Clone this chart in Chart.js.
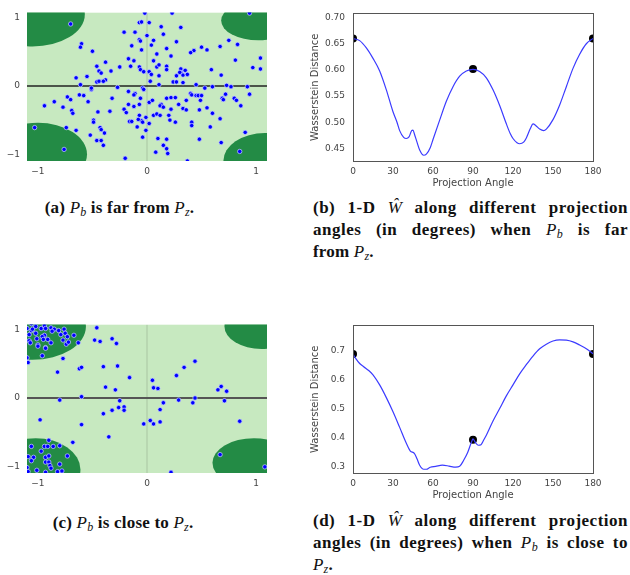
<!DOCTYPE html>
<html>
<head>
<meta charset="utf-8">
<script src="https://cdn.jsdelivr.net/npm/chart.js@4.4.0/dist/chart.umd.min.js"></script>
<style>
  html, body { margin: 0; padding: 0; background: #fff; }
  body { width: 630px; height: 575px; position: relative; overflow: hidden; }
  canvas { position: absolute; }
  .cap { position: absolute; font-family: "Liberation Serif", "DejaVu Serif", serif; font-weight: bold;
         font-size: 17px; line-height: 22px; color: #111; letter-spacing: 0.2px; }
  .cap i { font-weight: normal; font-style: italic; }
  .cap sub { font-size: 12px; vertical-align: -3px; line-height: 0; }
  .just { text-align: justify; text-align-last: justify; white-space: nowrap; letter-spacing: 0.5px; }
</style>
</head>
<body>
<canvas id="chartA" width="272" height="185" style="left:0;top:0"></canvas>
<canvas id="chartB" width="330" height="195" style="left:300px;top:0"></canvas>
<canvas id="chartC" width="272" height="185" style="left:0;top:312px"></canvas>
<canvas id="chartD" width="330" height="195" style="left:300px;top:312px"></canvas>

<div class="cap" style="left:0;top:197px;width:239px;text-align:center">(a) <i>P<sub>b</sub></i> is far from <i>P<sub>z</sub></i>.</div>
<div class="cap" style="left:313px;top:197px;width:315px">
  <div class="just">(b) 1-D <i>Ŵ</i> along different projection</div>
  <div class="just">angles (in degrees) when <i>P<sub>b</sub></i> is far</div>
  <div>from <i>P<sub>z</sub></i>.</div>
</div>
<div class="cap" style="left:0;top:512px;width:246px;text-align:center">(c) <i>P<sub>b</sub></i> is close to <i>P<sub>z</sub></i>.</div>
<div class="cap" style="left:313px;top:510px;width:315px">
  <div class="just">(d) 1-D <i>Ŵ</i> along different projection</div>
  <div class="just">angles (in degrees) when <i>P<sub>b</sub></i> is close to</div>
  <div><i>P<sub>z</sub></i>.</div>
</div>

<script>
// scatter samples, [x, y]
const pointsA = [
  [-0.70,0.91],[-0.02,1.07],[0.23,1.07],[0.94,1.07],[-0.07,0.93],[-0.05,0.94],[0.02,0.93],[0.13,0.87],
  [0.31,0.86],[-0.21,0.79],[-0.11,0.79],[0.15,0.76],[0.00,0.74],[-0.07,0.68],[-0.06,0.66],[0.06,0.67],
  [0.75,0.67],[-0.60,0.62],[-0.61,0.57],[-0.14,0.59],[0.04,0.60],[0.27,0.65],[0.83,0.61],[-0.05,0.53],
  [0.18,0.55],[0.43,0.52],[0.40,0.49],[0.50,0.57],[0.55,0.53],[0.67,0.58],[-0.50,0.51],[0.09,0.47],
  [0.22,0.44],[-0.17,0.40],[-0.12,0.37],[-0.38,0.35],[0.06,0.37],[0.81,0.38],[1.04,0.41],[-0.46,0.29],
  [-0.25,0.28],[-0.15,0.29],[-0.07,0.28],[0.09,0.28],[0.11,0.31],[0.18,0.29],[0.18,0.24],[-0.06,0.24],
  [-0.03,0.21],[0.02,0.21],[0.31,0.25],[0.31,0.20],[0.35,0.23],[0.59,0.24],[0.97,0.27],[1.04,0.25],
  [-0.44,0.22],[-0.42,0.19],[-0.33,0.22],[-0.65,0.12],[-0.55,0.14],[-0.38,0.09],[0.04,0.17],[0.11,0.15],
  [0.27,0.15],[0.33,0.16],[0.37,0.17],[0.30,0.20],[0.68,0.16],[0.03,0.07],[0.24,0.06],[0.27,0.06],
  [0.33,0.05],[-0.46,0.06],[-0.44,0.07],[-0.40,0.07],[-0.61,0.02],[0.11,0.02],[0.45,0.02],[0.73,0.01],
  [0.77,-0.01],[0.92,-0.01],[-0.51,-0.05],[-0.51,-0.03],[-0.27,-0.02],[-0.04,-0.03],[-0.03,-0.05],
  [-0.17,-0.08],[-0.11,-0.11],[-0.12,-0.13],[0.40,-0.11],[0.41,-0.13],[0.45,-0.14],[0.47,-0.14],
  [0.50,-0.14],[0.53,-0.03],[0.60,-0.01],[0.72,-0.12],[0.69,-0.18],[0.70,-0.20],[0.80,-0.18],[0.82,-0.21],
  [0.94,-0.12],[-0.62,-0.13],[-0.58,-0.14],[-0.73,-0.16],[-0.70,-0.20],[-0.85,-0.23],[-0.54,-0.23],
  [-0.94,-0.29],[-0.77,-0.31],[-0.32,-0.18],[-0.06,-0.18],[0.02,-0.24],[0.05,-0.21],[0.18,-0.18],
  [0.22,-0.17],[0.26,-0.17],[0.36,-0.21],[0.49,-0.21],[-0.17,-0.27],[-0.07,-0.27],[0.13,-0.27],
  [0.12,-0.29],[-0.21,-0.34],[-0.12,-0.30],[0.15,-0.31],[0.22,-0.34],[0.29,-0.27],[0.33,-0.33],
  [0.36,-0.35],[0.48,-0.35],[0.55,-0.32],[0.60,-0.40],[0.86,-0.29],[-0.69,-0.36],[-0.68,-0.40],
  [-0.45,-0.38],[-0.34,-0.37],[-0.19,-0.39],[-0.16,-0.52],[-0.14,-0.52],[-0.07,-0.43],[-0.05,-0.51],
  [-0.01,-0.46],[0.06,-0.43],[0.09,-0.41],[0.12,-0.43],[0.20,-0.43],[0.21,-0.50],[0.26,-0.53],
  [-0.08,-0.49],[0.41,-0.53],[0.41,-0.58],[0.67,-0.48],[0.58,-0.60],[-0.49,-0.50],[-0.49,-0.53],
  [-0.09,-0.60],[-0.04,-0.53],[0.02,-0.55],[-0.01,-0.65],[-0.43,-0.61],[-0.42,-0.64],[-0.39,-0.69],
  [-0.65,-0.65],[-0.74,-0.61],[-1.03,-0.61],[-0.52,-0.72],[-0.46,-0.80],[-0.42,-0.80],[-0.40,-0.87],
  [-0.04,-0.75],[0.10,-0.77],[0.18,-0.78],[0.15,-0.87],[0.18,-0.92],[0.19,-0.99],[0.08,-0.97],
  [0.48,-0.78],[0.68,-0.83],[0.90,-0.68],[0.85,-0.96],[-0.76,-0.93],[-0.20,-1.06],[0.37,-1.10]
];
const pointsC = [
  [-1.06,1.09],[-1.10,1.02],[-1.06,0.99],[-1.05,1.01],[-1.02,0.95],[-1.08,0.93],[-1.08,0.84],[-1.07,0.81],
  [-1.01,0.87],[-1.00,0.78],[-1.00,0.76],[-1.02,1.05],[-0.97,1.02],[-0.94,1.06],[-0.93,1.02],[-0.88,1.03],
  [-0.85,1.01],[-0.87,0.98],[-0.94,0.92],[-0.96,0.90],[-0.95,0.86],[-0.91,0.86],[-0.88,0.81],[-0.93,0.74],
  [-0.93,0.73],[-0.96,0.62],[-0.81,0.99],[-0.79,0.93],[-0.76,1.01],[-0.75,0.95],[-0.73,0.90],[-0.77,0.85],
  [-0.74,0.79],[-0.72,0.82],[-0.67,0.92],[-0.63,0.81],[-0.77,0.58],[-1.09,0.52],[-1.10,0.59],[-0.46,1.03],
  [-0.48,0.85],[-0.43,0.83],[-0.32,0.87],[-0.28,0.80],[-0.82,0.38],[-0.62,0.43],[-0.60,0.45],[-0.40,0.46],
  [-0.27,0.47],[-0.16,0.30],[0.05,0.26],[0.06,0.15],[0.10,0.14],[0.27,0.33],[0.34,0.45],[0.44,0.54],
  [-0.38,0.16],[-0.29,0.12],[-0.60,0.02],[-0.80,-0.03],[-0.25,-0.04],[0.15,-0.07],[0.29,-0.03],
  [0.42,-0.07],[0.44,0.00],[0.65,0.12],[0.68,0.17],[0.73,0.10],[0.71,-0.04],[-0.26,-0.14],[-0.21,-0.13],
  [-0.21,-0.18],[-0.32,-0.18],[-0.40,-0.23],[0.12,-0.17],[-0.98,-0.32],[-0.03,-0.38],[0.03,-0.33],
  [0.06,-0.38],[0.12,-0.35],[0.85,-0.34],[-0.60,-0.39],[-0.35,-0.57],[-0.68,-0.65],[-0.90,-0.62],
  [-1.06,-0.71],[-0.97,-0.78],[-0.94,-0.71],[-0.91,-0.71],[-0.86,-0.71],[-0.80,-0.70],[-1.09,-0.86],
  [-1.04,-0.87],[-1.06,-0.92],[-0.93,-0.87],[-0.90,-0.85],[-0.73,-0.85],[-0.93,-0.94],[-0.90,-0.94],
  [-0.80,-0.97],[-0.89,-0.99],[-0.88,-1.03],[-1.10,-1.02],[-1.09,-1.08],[-1.01,-1.06],[-0.93,-1.09],
  [-0.82,-1.08],[-0.78,-1.07],[0.67,-0.83],[1.08,-1.01],[0.22,-1.09]
];
// dark decision regions: [cx, cy, rx, ry] in data units
const regionsA = [[-1.05,1.05,0.48,0.47],[1.02,0.96,0.34,0.29],[-1.0,-1.0,0.45,0.46],[1.08,-1.1,0.38,0.41]];
const regionsC = [[-1.05,1.05,0.49,0.49],[1.05,1.05,0.34,0.33],[-1.02,-1.05,0.41,0.46],[0.98,-0.95,0.38,0.36]];

// projection angle curves
const anglesB = [0,5,10,15,20,25,30,33,35,38,40,42,44,45,46,48,50,53,55,58,60,65,70,75,80,85,90,
  95,100,105,110,115,118,120,123,125,128,130,133,135,137,140,143,145,150,155,160,165,170,175,180];
const distB = [0.660,0.656,0.642,0.622,0.598,0.562,0.520,0.500,0.484,0.471,0.469,0.472,0.484,0.485,0.478,
  0.462,0.447,0.437,0.439,0.452,0.467,0.504,0.540,0.568,0.588,0.598,0.601,0.597,0.585,0.562,0.532,0.497,
  0.478,0.469,0.461,0.459,0.462,0.470,0.488,0.497,0.494,0.487,0.484,0.487,0.505,0.533,0.568,0.603,0.630,
  0.650,0.660];
const markAnglesB = [0, 90, 180];
const markB = [0.660, 0.602, 0.660];

const anglesD = [0,2,5,8,12,15,20,25,30,35,40,43,46,48,50,53,55,58,62,67,72,77,80,83,86,89,90,92,94,96,
  98,100,105,110,115,120,125,130,135,140,145,150,155,160,165,170,175,180];
const distD = [0.690,0.675,0.657,0.646,0.632,0.618,0.583,0.539,0.490,0.436,0.381,0.354,0.346,0.327,0.305,
  0.291,0.291,0.298,0.301,0.305,0.302,0.298,0.301,0.322,0.349,0.387,0.396,0.382,0.374,0.376,0.392,0.409,
  0.458,0.501,0.545,0.583,0.621,0.653,0.683,0.708,0.724,0.735,0.739,0.738,0.732,0.721,0.708,0.691];
const markAnglesD = [0, 90, 180];
const markD = [0.690, 0.393, 0.690];

const tickFont = { family: 'DejaVu Sans', size: 9 };
const tickColor = '#444';
const minus = (v) => (v < 0 ? '\u2212' + Math.abs(v) : String(v));

// light background, dark ellipses and the zero lines of the scatter panels
const regionPlugin = {
  id: 'regions',
  beforeDatasetsDraw(chart, args, opts) {
    const { ctx, chartArea: a, scales: { x, y } } = chart;
    ctx.save();
    ctx.beginPath();
    ctx.rect(a.left, a.top, a.right - a.left, a.bottom - a.top);
    ctx.clip();
    ctx.fillStyle = '#c7e9c0';
    ctx.fillRect(a.left, a.top, a.right - a.left, a.bottom - a.top);
    ctx.fillStyle = '#238b45';
    for (const [cx, cy, rx, ry] of opts.shapes) {
      const px = x.getPixelForValue(cx);
      const py = y.getPixelForValue(cy);
      ctx.beginPath();
      ctx.ellipse(px, py, Math.abs(x.getPixelForValue(cx + rx) - px),
        Math.abs(y.getPixelForValue(cy + ry) - py), 0, 0, Math.PI * 2);
      ctx.fill();
    }
    const x0 = x.getPixelForValue(0);
    ctx.strokeStyle = 'rgba(0,0,0,0.1)';
    ctx.lineWidth = 1.5;
    ctx.beginPath();
    ctx.moveTo(x0, a.top);
    ctx.lineTo(x0, a.bottom);
    ctx.stroke();
    const y0 = y.getPixelForValue(0);
    ctx.strokeStyle = opts.zeroColor;
    ctx.lineWidth = opts.zeroWidth;
    ctx.beginPath();
    ctx.moveTo(a.left, y0);
    ctx.lineTo(a.right, y0);
    ctx.stroke();
    ctx.restore();
  }
};

const framePlugin = {
  id: 'frame',
  afterDraw(chart, args, opts) {
    if (!opts.show) return;
    const { ctx, chartArea: a } = chart;
    ctx.save();
    ctx.strokeStyle = '#555';
    ctx.lineWidth = 1;
    ctx.strokeRect(Math.round(a.left) + 0.5, Math.round(a.top) + 0.5,
      Math.round(a.right - a.left), Math.round(a.bottom - a.top));
    ctx.restore();
  }
};

function scatterChart(id, pts, shapes, zeroColor, zeroWidth) {
  return new Chart(document.getElementById(id), {
    type: 'scatter',
    data: {
      datasets: [{
        data: pts.map(([x, y]) => ({ x, y })),
        backgroundColor: '#0000ff',
        borderColor: 'rgba(200,210,255,0.9)',
        borderWidth: 0.8,
        pointRadius: 2.2,
        clip: 0
      }]
    },
    options: {
      responsive: false,
      animation: false,
      layout: { padding: { top: 5, right: 5, left: 0, bottom: 0 }, autoPadding: false },
      plugins: {
        legend: { display: false }, tooltip: { enabled: false },
        regions: { shapes, zeroColor, zeroWidth },
        frame: { show: false }
      },
      scales: {
        x: {
          type: 'linear', min: -1.1, max: 1.1,
          grid: { display: false, drawTicks: false },
          border: { display: false },
          ticks: { stepSize: 1, includeBounds: false, padding: 5, font: tickFont, color: tickColor, callback: minus },
          afterFit: (s) => { s.height = 24; }
        },
        y: {
          type: 'linear', min: -1.1, max: 1.08,
          grid: { display: false, drawTicks: false },
          border: { display: false },
          ticks: { stepSize: 1, includeBounds: false, padding: 7, font: tickFont, color: tickColor, callback: minus },
          afterFit: (s) => { s.width = 27; }
        }
      }
    },
    plugins: [regionPlugin, framePlugin]
  });
}

function angleChart(id, angles, dist, markX, markY, yMin, yMax, step, digits) {
  return new Chart(document.getElementById(id), {
    type: 'line',
    data: {
      datasets: [
        {
          data: angles.map((a, i) => ({ x: a, y: dist[i] })),
          borderColor: '#3b3bff',
          borderWidth: 1.2,
          pointRadius: 0,
          cubicInterpolationMode: 'monotone',
          fill: false
        },
        {
          data: markX.map((a, i) => ({ x: a, y: markY[i] })),
          showLine: false,
          pointRadius: 4,
          pointBackgroundColor: '#000',
          pointBorderColor: '#000',
          pointBorderWidth: 0,
          clip: 0
        }
      ]
    },
    options: {
      responsive: false,
      animation: false,
      layout: { padding: { top: 5, right: 37, left: 0, bottom: 0 }, autoPadding: false },
      plugins: { legend: { display: false }, tooltip: { enabled: false }, frame: { show: true } },
      scales: {
        x: {
          type: 'linear', min: 0, max: 180,
          grid: { display: false, drawTicks: false },
          border: { display: false },
          ticks: { stepSize: 30, padding: 5, font: tickFont, color: tickColor, maxRotation: 0 },
          title: { display: true, text: 'Projection Angle', font: { family: 'DejaVu Sans', size: 10 }, color: '#444', padding: { top: 0, bottom: 6 } },
          afterFit: (s) => { s.height = 34; }
        },
        y: {
          type: 'linear', min: yMin, max: yMax,
          grid: { display: false, drawTicks: false },
          border: { display: false },
          ticks: { stepSize: step, includeBounds: false, padding: 8, font: tickFont, color: tickColor,
            callback: (v) => v.toFixed(digits) },
          title: { display: true, text: 'Wasserstein Distance', font: { family: 'DejaVu Sans', size: 10 }, color: '#444', padding: { top: 9, bottom: 0 } },
          afterFit: (s) => { s.width = 53; }
        }
      }
    },
    plugins: [framePlugin]
  });
}

scatterChart('chartA', pointsA, regionsA, '#222', 1.3);
angleChart('chartB', anglesB, distB, markAnglesB, markB, 0.426, 0.708, 0.05, 2);
scatterChart('chartC', pointsC, regionsC, '#555', 2);
angleChart('chartD', anglesD, distD, markAnglesD, markD, 0.278, 0.789, 0.1, 1);
</script>
</body>
</html>
